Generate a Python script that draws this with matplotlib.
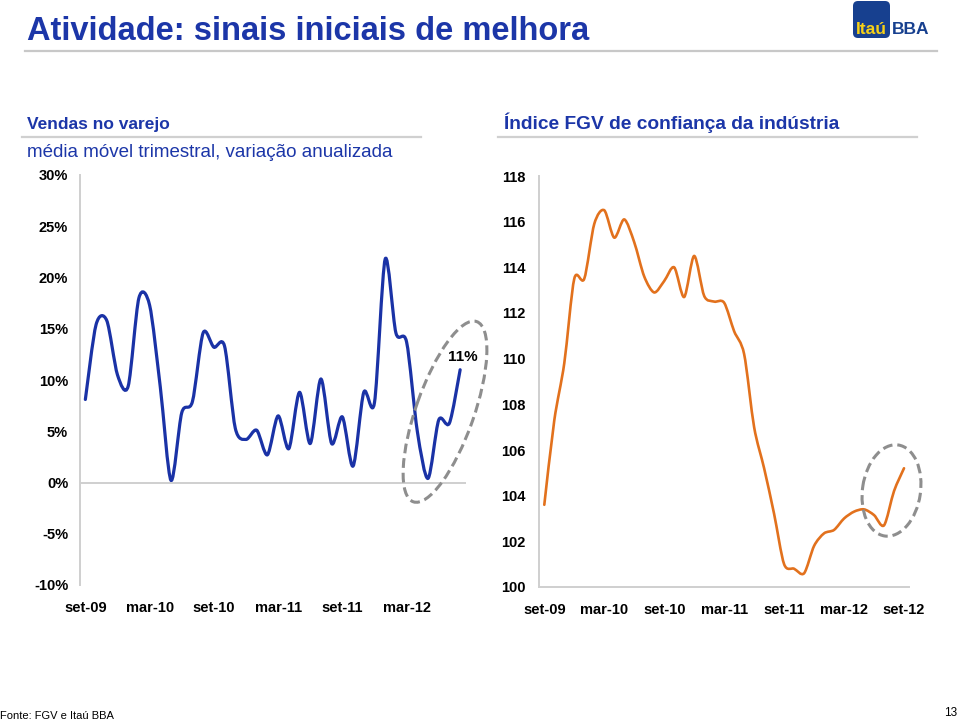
import numpy as np
import matplotlib.pyplot as plt
from matplotlib.path import Path
from matplotlib.patches import PathPatch, Ellipse, FancyBboxPatch

plt.rcParams['font.family'] = ['Liberation Sans', 'DejaVu Sans']

# dados - vendas no varejo (mm3m, var. anualizada, %), set-09 .. ago-12
varejo = [8.1, 15.4, 15.8, 10.5, 9.4, 18.0, 17.3, 9.3, 0.2, 6.8,
          7.9, 14.6, 13.2, 13.3, 5.3, 4.2, 5.1, 2.7, 6.5, 3.3,
          8.8, 3.8, 10.1, 3.8, 6.4, 1.6, 8.8, 7.8, 21.8, 14.6,
          13.7, 5.0, 0.4, 6.1, 5.8, 11.0]
rotulos_varejo = ['set-09', 'mar-10', 'set-10', 'mar-11', 'set-11', 'mar-12']

# dados - indice FGV de confianca da industria, set-09 .. set-12
confianca = [103.6, 107.3, 109.8, 113.5, 113.5, 115.9, 116.5, 115.3, 116.1, 115.1,
             113.6, 112.9, 113.4, 114.0, 112.7, 114.5, 112.75, 112.5, 112.45, 111.2,
             110.2, 107.0, 105.2, 103.2, 101.0, 100.8, 100.6, 101.8, 102.35, 102.5,
             103.0, 103.3, 103.4, 103.15, 102.7, 104.2, 105.2]
rotulos_conf = ['set-09', 'mar-10', 'set-10', 'mar-11', 'set-11', 'mar-12', 'set-12']

azul_titulo = '#1c36a8'
azul_linha = '#1a32a6'
laranja = '#e2711d'
cinza = '#cfcfcf'


def curva_suave(x, y, k=7):
    # linha suavizada estilo Excel (bezier pelos pontos)
    pts = np.column_stack([np.asarray(x, float), np.asarray(y, float)])
    ext = np.vstack([pts[0], pts, pts[-1]])
    verts = [pts[0]]
    codes = [Path.MOVETO]
    for i in range(len(pts) - 1):
        p0, p1, p2, p3 = ext[i], ext[i + 1], ext[i + 2], ext[i + 3]
        verts += [p1 + (p2 - p0) / k, p2 - (p3 - p1) / k, p2]
        codes += [Path.CURVE4] * 3
    return Path(verts, codes)


fig = plt.figure(figsize=(9.6, 7.21), dpi=100)

# grafico esquerdo
ax1 = fig.add_axes([80 / 960, 136 / 721, 385.5 / 960, 410 / 721])
x1 = np.arange(len(varejo))
ax1.add_patch(PathPatch(curva_suave(x1, varejo), fill=False, edgecolor=azul_linha,
                        lw=2.3, capstyle='round', joinstyle='round'))
ax1.set_xlim(-0.5, len(varejo) - 0.5)
ax1.set_ylim(-10, 30)
ax1.axhline(0, color=cinza, lw=1.4)
ax1.set_yticks(range(-10, 31, 5))
ax1.set_yticklabels([f'{v}%' for v in range(-10, 31, 5)])
ax1.set_xticks(x1[::6])
ax1.set_xticklabels(rotulos_varejo)
for s in ['top', 'right', 'bottom']:
    ax1.spines[s].set_visible(False)
ax1.spines['left'].set_color(cinza)
ax1.spines['left'].set_linewidth(1.4)
ax1.tick_params(axis='both', length=0, labelsize=10.5)
ax1.tick_params(axis='x', pad=11.5)
ax1.tick_params(axis='y', pad=8.5)
for t in ax1.get_xticklabels() + ax1.get_yticklabels():
    t.set_fontweight('bold')
ax1.annotate('11%', xy=(x1[-1], varejo[-1]), xytext=(2, 4), textcoords='offset points',
             ha='center', va='bottom', fontsize=11, fontweight='bold')

# grafico direito
ax2 = fig.add_axes([539.3 / 960, 134 / 721, 369.7 / 960, 411 / 721])
x2 = np.arange(len(confianca))
ax2.add_patch(PathPatch(curva_suave(x2, confianca), fill=False, edgecolor=laranja,
                        lw=1.9, capstyle='round', joinstyle='round'))
ax2.set_xlim(-0.5, len(confianca) - 0.5)
ax2.set_ylim(100, 118)
ax2.set_yticks(range(100, 119, 2))
ax2.set_xticks(x2[::6])
ax2.set_xticklabels(rotulos_conf)
for s in ['top', 'right']:
    ax2.spines[s].set_visible(False)
for s in ['left', 'bottom']:
    ax2.spines[s].set_color(cinza)
    ax2.spines[s].set_linewidth(1.4)
ax2.tick_params(axis='both', length=0, labelsize=10.5)
ax2.tick_params(axis='x', pad=11.5)
ax2.tick_params(axis='y', pad=10)
for t in ax2.get_xticklabels() + ax2.get_yticklabels():
    t.set_fontweight('bold')

# camada de anotacoes em pixels
ov = fig.add_axes([0, 0, 1, 1], zorder=5)
ov.set_xlim(0, 960)
ov.set_ylim(721, 0)
ov.axis('off')
ov.patch.set_alpha(0)

ov.text(27, 40, 'Atividade: sinais iniciais de melhora', color=azul_titulo,
        fontsize=23.5, fontweight='bold', va='baseline')
ov.plot([25, 937], [51, 51], color='#c8c8c8', lw=1.6)

ov.add_patch(FancyBboxPatch((853, 1), 37, 37, boxstyle='round,pad=0,rounding_size=5',
                            fc='#17408f', ec='none'))
ov.text(871.5, 34, 'Itaú', color='#f7d117', fontsize=12.5, fontweight='bold',
        ha='center', va='baseline')
ov.text(892, 34, 'BBA', color='#17408f', fontsize=12.5, fontweight='bold', va='baseline')

ov.text(27, 129, 'Vendas no varejo', color=azul_titulo, fontsize=12.5,
        fontweight='bold', va='baseline')
ov.plot([22, 421], [137, 137], color='#d0d0d0', lw=1.6)
ov.text(27, 157, 'média móvel trimestral, variação anualizada', color=azul_titulo,
        fontsize=13.5, va='baseline')

ov.text(504, 129, 'Índice FGV de confiança da indústria', color=azul_titulo,
        fontsize=13.8, fontweight='bold', va='baseline')
ov.plot([498, 917], [137, 137], color='#d0d0d0', lw=1.6)

ov.add_patch(Ellipse((445, 411.7), 191, 58, angle=-70.6, fill=False,
                     ec='#8e8e8e', lw=2.2, ls=(0, (3.2, 1.6))))
ov.add_patch(Ellipse((891.5, 490.5), 92, 58, angle=-81.5, fill=False,
                     ec='#8e8e8e', lw=2.2, ls=(0, (3.2, 1.6))))

ov.text(0, 719, 'Fonte: FGV e Itaú BBA', fontsize=8, va='baseline')
ov.text(957, 716, '13', fontsize=8.5, ha='right', va='baseline')

fig.savefig('out.png', dpi=100)
